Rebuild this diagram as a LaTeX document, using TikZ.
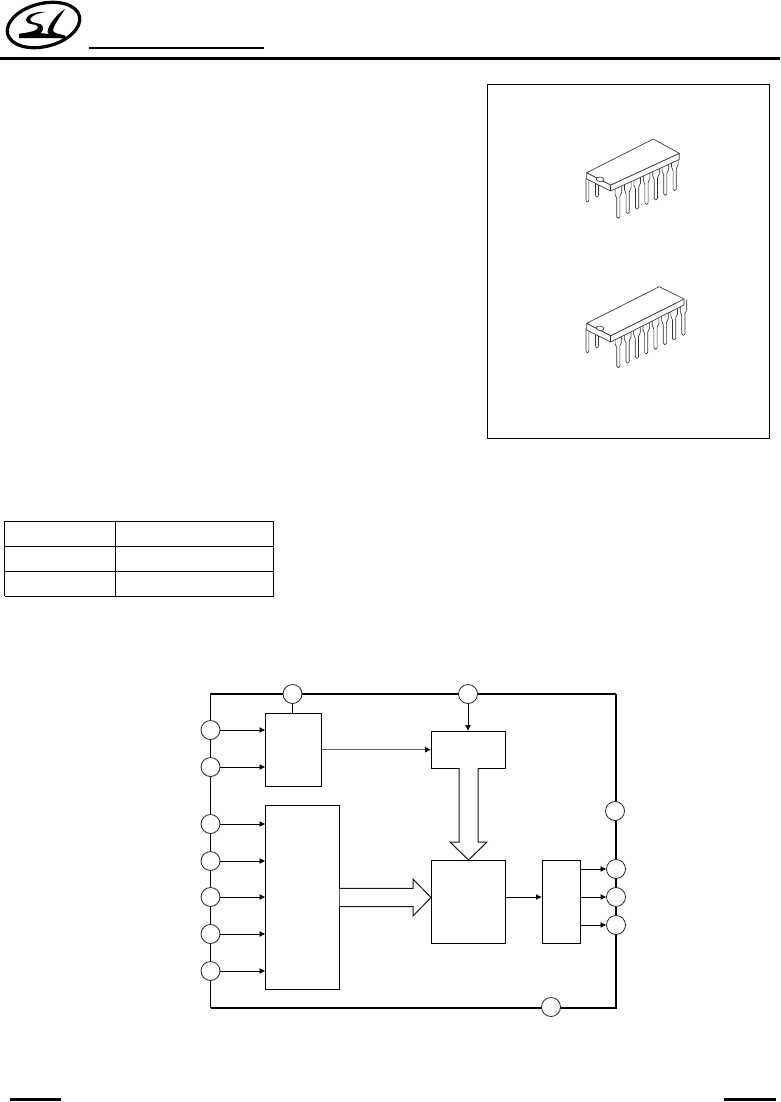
\documentclass[tikz,border=0pt]{standalone}
\usetikzlibrary{arrows.meta,calc}
\tikzset{
  x=1pt,y=-1pt,
  blk/.style={draw=black,line width=0.9pt,fill=white,inner sep=0pt,outer sep=0pt,anchor=north west},
  pad/.style={circle,draw=black!85,line width=0.8pt,fill=white,minimum size=19pt,inner sep=0pt,outer sep=0pt},
  wire/.style={line width=0.9pt,-{Latex[length=6pt,width=6pt,color=black]}},
  plain/.style={line width=1pt},
  frameheavy/.style={line width=2.2pt},
  framelight/.style={line width=1.1pt},
  bigarrow/.style={draw=black!90,line width=1pt,fill=white,line join=miter},
  icline/.style={draw=black!80,line width=0.65pt,fill=white,line join=round},
  rule/.style={line width=1pt},
}
\newcommand{\icpin}[2]{%
  \draw[icline] (#1-3.2,#2-33) -- (#1-3.2,#2-24) -- (#1-1.6,#2-20) -- (#1-1.6,#2-1.5)
     .. controls (#1-1.6,#2+0.5) and (#1+1.6,#2+0.5) .. (#1+1.6,#2-1.5)
     -- (#1+1.6,#2-22) -- (#1+3.4,#2-26) -- (#1+3.4,#2-36);
}
\newcommand{\icfar}[2]{% origin = left corner of the top face
  \draw[icline] (#1-0.7,#2+5) -- (#1-0.7,#2+27)
     .. controls (#1-0.7,#2+30) and (#1+2.2,#2+30) .. (#1+2.2,#2+27) -- (#1+2.2,#2+7);
  \draw[icline] (#1+8.8,#2+10) -- (#1+8.8,#2+22)
     .. controls (#1+8.8,#2+25) and (#1+11.8,#2+25) .. (#1+11.8,#2+22) -- (#1+11.8,#2+12);
}
\begin{document}
\begin{tikzpicture}
\useasboundingbox[fill=white] (0,0) rectangle (780,1102);
% header
\draw[line width=3pt] (0,58.5) -- (780,58.5);
\draw[line width=2pt] (89,48.5) -- (264,48.5);
\draw[line width=3pt] (10,1099.5) -- (61,1099.5);
\draw[line width=3pt] (724,1099.5) -- (776,1099.5);
% logo
\draw[line width=3.2pt,rotate around={14:(43.5,25)}] (43.5,25) ellipse [x radius=37,y radius=21.5];
\fill (46,12) .. controls (36,11) and (26,15) .. (26,20) .. controls (26,26) and (38,23) .. (38,27)
   .. controls (38,31) and (30,32) .. (19,34) -- (19,38) .. controls (32,38.5) and (44,35) .. (43,27)
   .. controls (42.5,22) and (31,24) .. (30,20) .. controls (30,16) and (38,13) .. (46,12) -- cycle;
\fill (65,9) .. controls (57,14) and (48,25) .. (47.5,32) .. controls (47.5,36) and (56,37) .. (66,38.5)
   -- (65,35.5) .. controls (59,34) and (53,33) .. (53,30.5) .. controls (54,24) and (61,16) .. (65,9) -- cycle;
\fill (19,34) .. controls (32,31.5) and (52,33) .. (66,38.5) .. controls (50,37.5) and (32,38.5) .. (19,38) -- cycle;
% package frame
\draw[line width=1pt] (487.5,84.5) rectangle (769.5,438.5);
% IC 1
\icfar{586.7}{172.7}
\foreach \i in {0,...,6}{
  \pgfmathsetmacro{\px}{618.3+9.4*\i}\pgfmathsetmacro{\py}{218.3-4.6*\i}
  \icpin{\px}{\py}
}
\draw[icline] (586.7,172.7) -- (586.7,179) -- (610.7,191) -- (679.3,159.5) -- (679.3,153.3) -- (610.7,185) -- cycle;
\draw[icline] (586.7,172.7) -- (653.3,139) -- (679.3,153.3) -- (610.7,185) -- cycle;
\draw[icline] (610.7,185) -- (610.7,191);
\draw[icline,rotate around={-8:(600,179.3)}] (600,179.3) ellipse [x radius=4,y radius=2.2];
% IC 2
\icfar{586.7}{323.3}
\foreach \i in {0,...,7}{
  \pgfmathsetmacro{\px}{618.3+9.3*\i}\pgfmathsetmacro{\py}{367.7-4.6*\i}
  \icpin{\px}{\py}
}
\draw[icline] (586.7,323.3) -- (586.7,330) -- (610.7,342) -- (684,305) -- (684,299) -- (610.7,335.7) -- cycle;
\draw[icline] (586.7,323.3) -- (659.3,286.7) -- (684,299) -- (610.7,335.7) -- cycle;
\draw[icline] (610.7,335.7) -- (610.7,342);
\draw[icline,rotate around={-8:(600,328.3)}] (600,328.3) ellipse [x radius=4,y radius=2.2];
% table
\draw[rule] (4.5,521.3) -- (273.5,521.3) (4.5,546.3) -- (273.5,546.3) (4.5,571.4) -- (273.5,571.4) (4.5,596.4) -- (273.5,596.4);
\draw[rule] (4.5,521.3) -- (4.5,596.4) (115.3,521.3) -- (115.3,596.4) (273.5,521.3) -- (273.5,596.4);
% block diagram: frame
\coordinate (TL) at (210.5,694);
\coordinate (TR) at (616,694);
\coordinate (BR) at (616,1008);
\coordinate (BL) at (210.5,1008);
\draw[framelight] (BL) -- (TL) -- (TR);
\draw[frameheavy] (TR) -- (BR) -- (BL);
% boxes
\node[blk,minimum width=55.5pt,minimum height=73.5pt] (A) at (265.5,713) {};
\node[blk,minimum width=74pt,minimum height=184pt] (B) at (265.5,805) {};
\node[blk,minimum width=74pt,minimum height=37pt] (C) at (431,731) {};
\node[blk,minimum width=74pt,minimum height=83pt] (D) at (431,860) {};
\node[blk,minimum width=38pt,minimum height=83pt] (E) at (542,860) {};
% pads
\node[pad] (t1) at (292.5,694) {};
\node[pad] (t2) at (468,694) {};
\node[pad] (l1) at (210.5,730) {};
\node[pad] (l2) at (210.5,767) {};
\node[pad] (l3) at (210.5,824) {};
\node[pad] (l4) at (210.5,861) {};
\node[pad] (l5) at (210.5,897) {};
\node[pad] (l6) at (210.5,934) {};
\node[pad] (l7) at (210.5,971) {};
\node[pad] (r0) at (615,811) {};
\node[pad] (r1) at (616,869) {};
\node[pad] (r2) at (616,897) {};
\node[pad] (r3) at (616,925) {};
\node[pad] (b1) at (551,1007) {};
% connectors
\foreach \p in {l1,l2}{ \draw[wire] (\p.east) -- (\p.east -| A.west); }
\foreach \p in {l3,l4,l5,l6,l7}{ \draw[wire] (\p.east) -- (\p.east -| B.west); }
\draw[plain] (t1.south) -- (t1.south |- A.north);
\draw[wire] (t2.south) -- (t2.south |- C.north);
\draw[wire,draw=black!60] (A.east) -- (A.east -| C.west);
\draw[wire] (D.east |- r2.west) -- (E.west |- r2.west);
\foreach \p in {r1,r2,r3}{ \draw[wire] (\p.west -| E.east) -- (\p.west); }
% hollow arrows
\coordinate (Htip) at (431,897.5);
\coordinate (Vtip) at (468.5,860);
\draw[bigarrow] ($(B.east |- Htip)+(0,-9.2)$) -- ++(73.5,0) -- ++(0,-9.3) -- (Htip) -- ++(-18,18.5) -- ++(0,-9.3) -- ($(B.east |- Htip)+(0,9.2)$);
\draw[bigarrow] ($(C.south -| Vtip)+(-9.5,0)$) -- ++(0,74) -- ++(-9,0) -- (Vtip) -- ++(18.5,-18) -- ++(-9,0) -- ($(C.south -| Vtip)+(9.5,0)$);
\end{tikzpicture}
\end{document}
